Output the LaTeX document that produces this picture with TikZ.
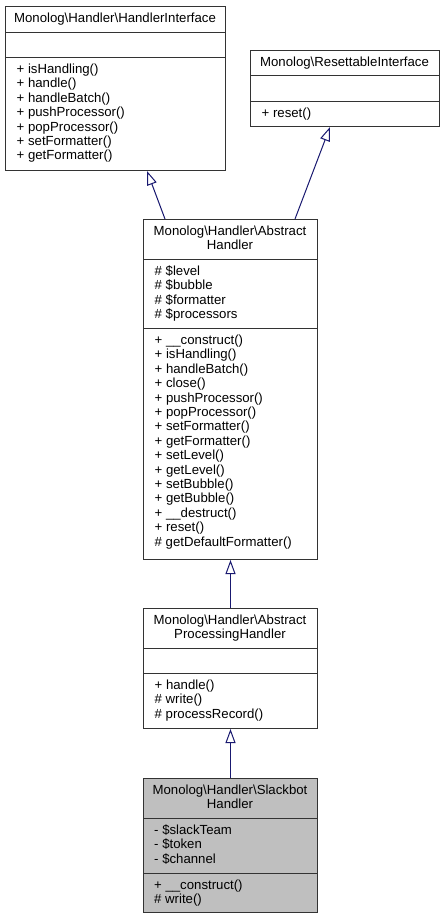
\documentclass[tikz,border=0pt]{standalone}
\usepackage{fontspec}
\setmainfont{Liberation Sans}
\usepackage{xcolor}
\usetikzlibrary{arrows.meta}

\definecolor{edgeblue}{HTML}{191970}
\definecolor{boxgray}{HTML}{BFBFBF}

\begin{document}
\begin{tikzpicture}[x=1pt,y=-1pt,
	every node/.style={inner sep=0pt, font=\fontsize{13.2}{14.4}\selectfont},
	cls/.style={draw=black!80, line width=1pt, anchor=north west},
	members/.style={anchor=north west, align=left},
	title/.style={anchor=north, align=center},
	inherit/.style={draw=edgeblue, line width=1pt, -{Triangle[open, length=14pt, width=10pt, fill=white]}}]
				\useasboundingbox (0,0) rectangle (445,919);
				% Monolog\Handler\HandlerInterface
				\node [cls, minimum width=220pt, minimum height=164pt] (hi) at (5,6) {};
				\draw [black!80, line width=1pt] (hi.west |- 0,32) -- (hi.east |- 0,32);
				\draw [black!80, line width=1pt] (hi.west |- 0,57) -- (hi.east |- 0,57);
				\node [title] (hi-name) at (115,12.2) {\strut Monolog\textbackslash Handler\textbackslash HandlerInterface};
				\node [members] (hi-ops) at (16.5,63.2) {\strut + isHandling()\\\strut + handle()\\\strut + handleBatch()\\\strut + pushProcessor()\\\strut + popProcessor()\\\strut + setFormatter()\\\strut + getFormatter()};
				% Monolog\ResettableInterface
				\node [cls, minimum width=189pt, minimum height=76pt] (ri) at (250,50) {};
				\draw [black!80, line width=1pt] (ri.west |- 0,75) -- (ri.east |- 0,75);
				\draw [black!80, line width=1pt] (ri.west |- 0,101) -- (ri.east |- 0,101);
				\node [title] (ri-name) at (344.5,56.2) {\strut Monolog\textbackslash ResettableInterface};
				\node [members] (ri-ops) at (261.5,107.2) {\strut + reset()};
				% Monolog\Handler\AbstractHandler
				\node [cls, minimum width=174pt, minimum height=340pt] (ah) at (143,219) {};
				\draw [black!80, line width=1pt] (ah.west |- 0,259) -- (ah.east |- 0,259);
				\draw [black!80, line width=1pt] (ah.west |- 0,328) -- (ah.east |- 0,328);
				\node [title] (ah-name) at (230,225.2) {\strut Monolog\textbackslash Handler\textbackslash Abstract\\\strut Handler};
				\node [members] (ah-attr) at (154.5,265.2) {\strut \# \$level\\\strut \# \$bubble\\\strut \# \$formatter\\\strut \# \$processors};
				\node [members] (ah-ops) at (154.5,334.2) {\strut + \_\_construct()\\\strut + isHandling()\\\strut + handleBatch()\\\strut + close()\\\strut + pushProcessor()\\\strut + popProcessor()\\\strut + setFormatter()\\\strut + getFormatter()\\\strut + setLevel()\\\strut + getLevel()\\\strut + setBubble()\\\strut + getBubble()\\\strut + \_\_destruct()\\\strut + reset()\\\strut \# getDefaultFormatter()};
				% Monolog\Handler\AbstractProcessingHandler
				\node [cls, minimum width=174pt, minimum height=120pt] (aph) at (143,608) {};
				\draw [black!80, line width=1pt] (aph.west |- 0,648) -- (aph.east |- 0,648);
				\draw [black!80, line width=1pt] (aph.west |- 0,673) -- (aph.east |- 0,673);
				\node [title] (aph-name) at (230,614.2) {\strut Monolog\textbackslash Handler\textbackslash Abstract\\\strut ProcessingHandler};
				\node [members] (aph-ops) at (154.5,679.2) {\strut + handle()\\\strut \# write()\\\strut \# processRecord()};
				% Monolog\Handler\SlackbotHandler
				\node [cls, fill=boxgray, minimum width=174pt, minimum height=134pt] (sh) at (143,778) {};
				\draw [black!80, line width=1pt] (sh.west |- 0,818) -- (sh.east |- 0,818);
				\draw [black!80, line width=1pt] (sh.west |- 0,873) -- (sh.east |- 0,873);
				\node [title] (sh-name) at (230,784.2) {\strut Monolog\textbackslash Handler\textbackslash Slackbot\\\strut Handler};
				\node [members] (sh-attr) at (154,824.2) {\strut - \$slackTeam\\\strut - \$token\\\strut - \$channel};
				\node [members] (sh-ops) at (154,879.2) {\strut + \_\_construct()\\\strut \# write()};
				% inheritance
				\draw [inherit] (ah.north -| 165,0) -- (hi.south -| 147,0);
				\draw [inherit] (ah.north -| 295,0) -- (ri.south -| 330,0);
				\draw [inherit] (aph.north) -- (ah.south);
				\draw [inherit] (sh.north) -- (aph.south);
\end{tikzpicture}
\end{document}
